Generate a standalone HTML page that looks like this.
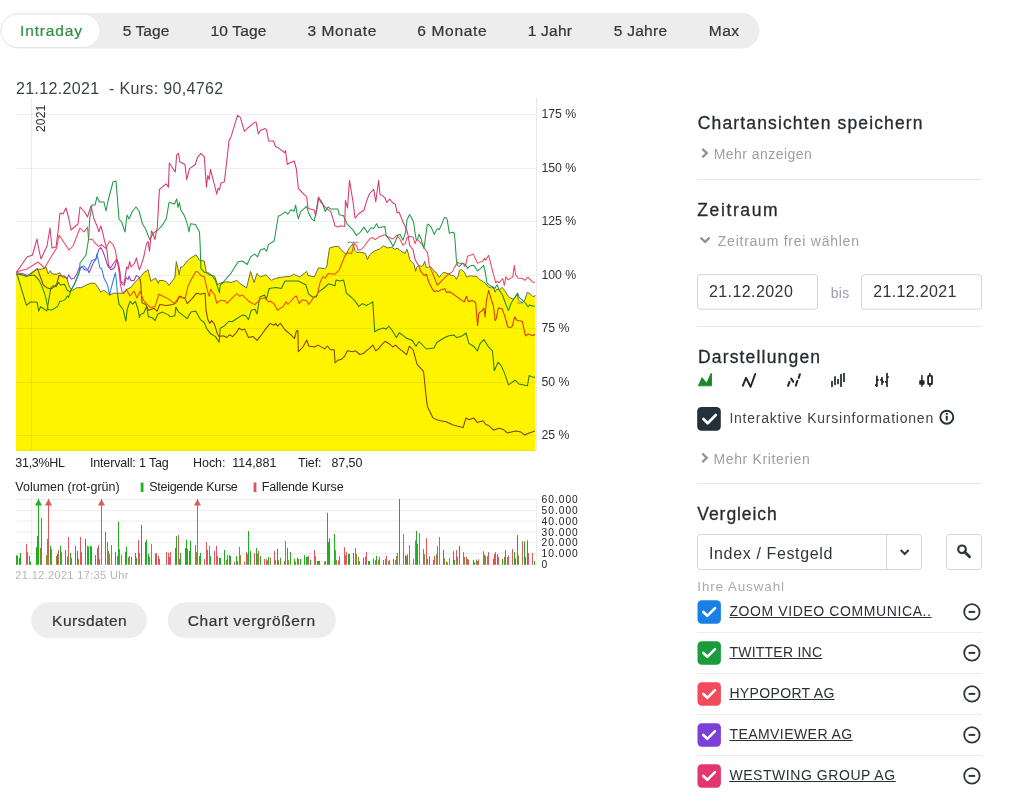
<!DOCTYPE html>
<html><head><meta charset="utf-8">
<style>
html,body{margin:0;padding:0;background:#fff;}
body{width:1027px;height:795px;overflow:hidden;position:relative;font-family:"Liberation Sans",sans-serif;}
.t{position:absolute;white-space:nowrap;line-height:1;}
svg{position:absolute;left:0;top:0;}
</style></head><body>
<svg width="1027" height="795" viewBox="0 0 1027 795" font-family="Liberation Sans">
<line x1="16" y1="114.5" x2="536" y2="114.5" stroke="#000" stroke-opacity="0.068" stroke-width="1"/>
<line x1="16" y1="168.5" x2="536" y2="168.5" stroke="#000" stroke-opacity="0.068" stroke-width="1"/>
<line x1="16" y1="221.5" x2="536" y2="221.5" stroke="#000" stroke-opacity="0.068" stroke-width="1"/>
<line x1="16" y1="275.5" x2="536" y2="275.5" stroke="#000" stroke-opacity="0.068" stroke-width="1"/>
<line x1="16" y1="328.5" x2="536" y2="328.5" stroke="#000" stroke-opacity="0.068" stroke-width="1"/>
<line x1="16" y1="382.5" x2="536" y2="382.5" stroke="#000" stroke-opacity="0.068" stroke-width="1"/>
<line x1="16" y1="435.5" x2="536" y2="435.5" stroke="#000" stroke-opacity="0.068" stroke-width="1"/>
<line x1="31.5" y1="98" x2="31.5" y2="451" stroke="#000" stroke-opacity="0.08" stroke-width="1"/>
<line x1="536.5" y1="98" x2="536.5" y2="451" stroke="#000" stroke-opacity="0.09" stroke-width="1"/>
<text x="0" y="0" transform="translate(44.9,132) rotate(-90)" font-size="12.5" fill="#333" font-family="Liberation Sans" textLength="27.3" lengthAdjust="spacingAndGlyphs">2021</text>
<polyline points="16.8,272.7 23.6,274.0 27.7,275.4 30.4,274.0 37.3,268.6 43.4,285.0 46.8,287.7 50.9,289.1 55.0,286.4 57.0,283.0 59.1,275.4 64.5,276.1 67.3,278.9 68.6,274.8 71.3,278.9 74.1,278.2 76.8,274.0 79.5,267.3 82.2,267.3 85.0,270.0 87.7,270.0 89.1,272.7 93.2,263.2 95.9,259.1 98.9,249.3 100.8,247.4 102.8,251.3 104.7,256.2 107.7,265.9 111.1,269.8 114.5,267.8 116.9,259.6 118.4,264.0 119.8,270.8 120.8,281.5 122.3,284.4 124.2,285.4 126.2,277.6 128.1,279.5 129.1,276.1 131.0,280.5 134.0,280.5 136.4,275.6 138.3,276.6 139.8,278.1 140.8,283.4 141.7,299.0 141.9,302.6 145.7,304.5 148.5,310.2 154.2,308.3 157.0,311.1 159.8,304.5 166.4,305.5 173.0,304.5 176.8,301.7 179.6,296.0 185.3,298.9 187.2,303.6 191.9,298.9 196.6,293.2 200.4,294.2 205.1,293.2 206.0,310.2 207.9,319.6 209.8,323.4 211.7,320.6 214.5,324.3 217.4,333.8 219.2,336.6 223.0,335.7 226.8,337.5 229.6,334.7 232.5,336.6 236.2,332.8 239.1,328.1 241.9,330.0 244.7,329.1 248.5,337.5 253.2,336.6 257.0,340.4 260.8,335.7 265.5,329.1 270.2,323.4 273.8,325.3 275.7,323.4 277.5,326.2 280.4,323.4 285.1,330.0 290.8,334.7 294.5,338.5 296.4,331.0 297.9,330.6 298.3,351.7 303.0,347.0 306.8,340.0 308.7,346.0 314.3,347.0 318.1,345.1 324.7,348.9 327.5,346.0 330.4,349.8 334.2,349.8 335.1,363.0 337.9,360.2 341.7,359.2 344.5,356.4 347.4,350.8 353.0,351.7 355.8,350.8 359.6,354.5 363.4,353.6 366.2,350.8 370.0,347.9 372.8,345.1 375.7,350.8 378.5,348.9 381.3,345.1 385.1,341.3 389.8,344.2 392.6,347.0 395.5,345.1 398.3,347.9 402.1,350.8 406.6,354.7 409.4,346.2 413.2,350.0 417.0,364.2 423.6,371.7 425.5,390.6 427.4,406.6 433.0,417.9 436.8,419.8 440.6,420.8 446.2,421.7 451.9,424.5 454.7,425.5 463.2,427.4 466.0,417.9 468.9,419.8 473.6,417.9 477.4,422.6 483.0,420.8 485.8,424.5 488.7,425.5 493.4,430.2 499.0,428.3 502.8,429.2 507.5,433.0 511.3,432.1 516.0,431.1 520.8,432.1 524.5,434.9 529.2,433.0 535.0,431.1" fill="none" stroke="#8a3fd0" stroke-width="1.05" stroke-opacity="1.0" stroke-linejoin="round"/>
<polyline points="16.8,273.4 26.4,305.4 30.4,302.0 35.2,302.0 37.3,302.7 38.6,310.9 40.7,306.8 46.8,310.9 48.8,300.0 50.9,287.7 53.6,285.7 56.3,286.4 58.4,282.3 60.4,285.0 64.5,284.3 67.3,290.4 70.0,291.8 75.4,282.3 78.2,275.4 80.9,267.3 83.6,265.9 87.7,270.0 91.8,260.5 95.9,259.1 96.9,254.2 98.9,263.0 99.9,267.8 101.8,268.8 103.8,277.6 105.7,281.5 107.7,285.4 109.6,295.1 111.1,288.3 113.5,279.5 115.4,272.7 116.4,281.5 117.4,293.2 119.0,304.1 123.1,309.5 125.9,321.1 127.2,309.5 130.0,301.3 132.7,304.1 135.4,301.3 138.1,309.5 139.5,317.7 140.0,314.9 143.8,313.0 146.6,306.4 148.5,316.8 152.3,317.7 155.1,320.6 157.9,314.0 162.6,312.1 168.3,314.9 170.2,316.8 174.9,315.8 175.8,307.4 178.7,312.1 187.2,318.7 190.9,312.1 195.7,311.1 200.4,319.6 204.2,322.5 207.0,329.1 210.8,333.8 215.5,336.6 219.2,342.3 220.2,328.1 224.0,326.2 228.7,321.5 232.5,321.5 238.1,317.7 242.8,314.9 245.7,315.8 248.5,319.6 251.3,310.2 255.1,309.2 257.0,314.0 259.8,297.0 264.5,295.1 266.4,298.9 269.2,288.5 275.8,287.5 281.3,288.5 285.1,281.0 298.3,281.0 305.8,284.7 308.7,294.2 312.5,297.0 316.2,297.0 318.1,292.3 324.7,287.5 328.5,283.8 335.1,285.7 336.0,280.0 339.8,281.0 343.6,280.0 344.5,283.8 346.4,293.2 351.1,297.0 354.9,300.8 358.7,306.4 362.5,303.6 366.2,305.5 370.0,303.6 372.8,301.7 374.7,331.9 377.5,330.0 383.2,328.1 386.0,329.1 388.9,326.2 392.6,330.9 396.4,337.5 399.2,332.8 402.1,334.7 405.7,337.7 412.3,340.6 416.0,346.2 418.9,341.5 426.4,349.0 434.0,348.1 436.8,342.5 444.3,337.7 449.0,335.8 453.8,334.9 456.6,337.7 462.3,335.8 466.0,333.0 468.9,343.4 473.6,346.2 477.4,351.0 480.2,343.4 484.0,339.6 488.7,347.2 492.5,351.0 494.3,370.8 498.1,362.3 500.9,365.1 504.7,373.6 508.5,384.9 515.1,380.2 518.9,384.0 527.4,385.8 529.2,375.5 533.0,377.4 535.0,377.0" fill="none" stroke="#2f7fe0" stroke-width="1.05" stroke-opacity="1.0" stroke-linejoin="round"/>
<polyline points="16.0,272.0 27.0,269.0 38.0,262.0 44.6,268.0 51.0,257.0 56.7,248.0 59.0,235.0 69.0,250.0 73.0,246.0 80.0,228.0 84.0,232.0 87.5,227.0 88.6,240.0 92.0,239.0 95.0,243.0 98.9,246.4 101.3,244.5 105.7,248.4 109.6,241.1 113.0,244.5 115.4,250.3 116.9,259.1 117.9,264.0 119.3,273.7 120.3,283.4 121.8,291.2 123.7,293.2 126.2,289.3 130.0,296.0 134.0,291.0 137.0,298.0 140.0,291.3 143.8,300.8 150.4,307.4 155.1,306.4 158.9,294.2 168.3,298.9 174.9,303.6 178.7,297.0 185.3,297.9 188.1,285.7 191.9,278.3 196.0,271.4 198.0,272.0 200.9,275.5 204.3,277.0 207.8,292.0 209.2,296.3 210.5,289.4 214.7,295.0 216.8,303.2 220.2,300.4 224.4,300.4 227.1,303.2 236.8,293.5 239.6,296.3 242.4,295.0 249.3,301.8 254.8,304.6 257.6,301.8 260.3,299.0 264.5,297.7 268.6,301.8 270.0,301.0 273.8,303.6 277.5,310.2 283.2,306.4 286.0,301.7 287.9,304.5 294.5,297.0 296.4,296.0 299.2,303.6 302.1,299.8 306.8,300.8 308.7,304.5 313.4,297.9 317.2,295.1 320.0,282.8 322.6,276.9 325.3,278.3 328.0,273.5 335.0,274.2 339.2,270.0 344.7,256.2 347.5,252.7 351.6,253.4 354.4,243.7 356.4,245.1 357.8,250.0 361.3,249.3 364.0,246.5 369.6,238.9 372.4,237.5 375.1,239.6 379.3,236.8 384.8,234.7 389.0,237.5 393.1,238.9 397.0,235.2 400.0,239.2 403.0,245.2 405.6,243.2 406.6,238.2 410.0,236.2 413.0,237.2 415.0,243.7 416.6,239.7 418.6,240.2 420.0,242.2 422.7,245.2 425.7,250.3 427.2,251.8 428.2,257.3 429.2,265.4 431.8,271.4 434.6,278.3 437.3,285.2 440.1,282.5 442.9,279.7 445.6,276.9 448.4,274.2 452.3,271.9 454.4,267.4 456.4,264.4 457.4,262.3 459.4,263.3 463.4,263.3 464.4,266.4 465.9,264.4 467.4,256.3 470.5,255.3 473.1,253.9 477.6,263.4 480.0,262.1 482.6,261.5 484.5,258.3 485.7,260.2 488.6,255.2 491.4,266.5 495.8,282.9 497.1,281.0 499.0,282.9 502.7,278.5 504.3,285.4 505.9,276.6 507.8,279.7 511.6,277.9 512.8,276.6 514.3,265.3 515.6,274.7 517.9,277.9 522.3,278.5 524.8,280.4 527.9,277.2 529.8,279.1 533.0,282.3 535.0,282.3" fill="none" stroke="#ee4a5e" stroke-width="1.05" stroke-opacity="1.0" stroke-linejoin="round"/>
<polyline points="16.5,274.0 20.0,274.5 27.0,276.0 34.0,275.0 38.6,279.5 41.4,285.0 45.4,295.9 48.2,309.5 50.9,310.2 55.0,308.2 57.7,306.1 59.8,301.3 63.2,300.7 65.9,298.6 67.3,295.9 68.6,297.3 71.3,289.8 74.1,285.0 79.5,271.4 80.0,263.0 86.0,255.0 88.6,239.0 89.7,219.0 92.0,205.0 95.0,205.0 97.0,197.0 99.6,202.0 104.0,202.0 106.0,211.0 108.0,201.0 113.0,182.0 116.0,181.0 119.0,219.0 121.6,222.0 125.0,232.0 127.0,215.0 129.0,219.0 132.6,211.0 136.0,207.0 139.0,211.0 142.5,224.0 145.5,228.5 149.7,239.6 153.8,232.7 158.0,230.0 162.0,225.7 166.3,218.8 169.0,202.5 172.5,203.2 174.6,204.0 176.7,199.0 178.0,207.3 179.4,202.5 180.8,210.0 183.6,214.3 185.6,218.8 187.7,225.7 189.0,232.0 190.5,223.7 195.3,224.4 199.5,232.0 200.2,246.5 200.9,268.6 205.0,272.8 207.8,272.8 212.0,275.5 215.4,280.4 217.5,286.6 219.5,292.8 220.2,285.2 223.0,282.5 227.1,277.6 231.3,272.8 235.4,265.9 238.2,261.7 242.4,261.0 245.1,263.0 247.2,264.5 250.6,256.9 254.8,254.1 257.6,256.9 260.3,250.0 264.5,248.6 266.6,251.3 268.6,244.4 274.2,241.0 278.3,216.0 280.4,215.4 285.2,211.9 288.0,214.0 290.7,209.8 294.2,211.2 295.6,205.0 297.0,213.3 298.4,218.8 300.4,211.9 306.7,206.4 308.7,213.3 311.5,218.8 314.3,220.9 316.3,210.5 318.4,197.7 321.9,201.8 325.3,211.5 328.0,207.0 330.9,209.1 337.8,209.0 339.2,214.7 343.3,215.4 345.4,220.2 347.5,224.4 353.0,229.9 356.4,235.4 359.9,232.7 364.0,227.1 367.5,232.7 371.0,227.8 373.7,228.5 376.5,223.7 378.6,227.8 384.8,226.4 386.2,235.4 390.3,241.0 393.1,246.5 395.9,240.3 398.0,235.2 400.0,234.2 403.0,240.2 405.6,232.2 407.0,220.0 409.6,214.6 411.6,218.0 413.6,222.0 414.6,230.2 416.1,239.2 417.6,239.2 419.1,234.2 421.2,239.2 423.7,248.3 424.7,243.2 427.2,225.1 428.2,224.1 431.2,227.1 434.2,234.2 436.8,229.6 438.3,228.6 439.3,229.6 441.8,224.1 444.3,217.6 446.3,218.1 447.3,220.1 449.3,233.2 452.8,232.2 454.4,233.2 455.4,245.2 456.4,260.3 457.4,265.4 459.4,266.4 462.4,263.3 465.4,264.4 467.4,268.4 469.4,266.4 471.5,265.4 473.8,265.3 477.6,270.9 480.7,268.4 483.6,265.3 485.1,271.6 487.0,282.9 489.5,285.4 492.7,286.7 494.6,288.6 497.1,284.8 499.0,289.8 502.7,295.5 505.3,303.0 508.4,310.6 510.9,303.7 512.8,300.5 516.0,295.5 517.6,293.0 519.1,297.4 522.9,300.5 525.4,303.0 527.9,306.8 529.8,304.9 533.0,306.2 535.0,306.0" fill="none" stroke="#1f9a45" stroke-width="1.05" stroke-opacity="1.0" stroke-linejoin="round"/>
<polyline points="16.0,273.0 27.0,257.0 32.5,255.0 37.0,239.0 39.0,250.0 41.0,259.0 47.0,246.0 50.0,228.0 52.0,248.0 56.0,247.0 58.0,232.0 60.0,213.0 63.0,214.0 66.0,208.0 69.0,219.0 71.0,230.0 78.0,224.0 80.0,207.0 84.0,211.0 87.5,217.0 91.0,206.0 94.0,219.0 97.0,226.0 98.9,231.8 100.8,226.0 102.8,232.8 104.7,241.6 106.7,248.4 107.7,257.1 108.6,265.9 110.6,267.8 114.5,262.0 116.9,259.1 118.4,264.0 119.8,273.7 120.8,281.5 122.3,282.4 124.2,283.4 125.2,276.6 126.6,266.9 128.1,268.8 129.6,261.5 131.0,266.9 134.4,263.5 136.4,258.1 139.3,269.8 141.3,264.9 143.7,257.1 146.6,243.5 148.1,241.6 149.5,251.3 151.5,230.8 153.4,234.7 154.9,239.6 157.3,227.0 158.0,215.0 159.4,189.4 166.3,183.8 168.4,187.3 169.3,163.0 175.3,172.0 176.7,154.8 178.5,153.4 179.8,161.7 185.0,164.5 186.7,179.7 189.5,168.6 195.3,164.5 197.4,157.6 200.9,153.4 204.3,156.9 206.4,187.3 207.8,175.5 209.2,179.7 210.5,169.3 216.8,194.2 218.1,188.0 219.5,190.0 220.9,183.1 224.4,181.8 229.2,139.6 230.6,138.2 237.5,115.4 240.3,117.4 244.4,131.3 247.2,128.5 254.8,122.3 256.2,122.3 258.3,134.0 260.3,130.6 265.2,128.5 266.6,129.9 268.6,141.0 273.5,141.0 275.5,146.5 278.3,147.9 284.5,152.7 285.5,150.6 287.3,164.5 289.4,163.0 294.2,161.0 296.3,168.6 298.4,188.7 304.6,194.9 306.7,197.0 308.0,208.0 309.4,208.7 314.3,210.0 315.6,216.0 317.7,205.0 318.4,197.0 320.5,201.8 325.3,207.3 330.9,211.9 335.0,225.7 337.8,227.1 340.5,225.7 344.7,226.4 345.4,200.4 347.5,208.0 349.5,180.4 353.0,201.8 354.4,212.9 355.1,218.1 358.5,214.0 364.0,210.0 366.8,200.4 369.6,193.5 373.7,189.4 375.8,201.8 378.6,180.4 380.0,194.2 384.8,197.7 386.9,202.5 389.6,199.0 393.1,203.2 395.2,203.9 397.2,212.9 399.0,212.0 401.0,217.0 403.0,222.0 405.0,226.0 407.0,231.0 408.0,235.0 409.6,245.0 411.0,247.3 413.0,249.3 415.0,259.3 416.6,262.3 418.6,265.4 420.7,271.4 424.2,275.5 426.3,274.2 429.0,282.5 431.8,288.0 433.9,291.4 436.7,290.8 438.7,291.4 441.5,289.4 445.0,288.7 446.3,292.1 450.5,292.1 455.3,295.6 458.1,297.7 461.5,300.4 464.3,301.8 466.4,296.3 468.5,301.8 471.9,300.4 473.8,301.2 475.7,303.0 477.6,325.7 478.8,313.1 482.0,310.6 483.9,308.1 485.1,316.9 486.4,300.5 488.6,290.5 490.8,298.0 493.3,305.6 495.2,320.7 496.4,318.2 498.3,308.1 502.1,308.7 504.6,315.6 507.8,327.0 510.3,327.6 512.2,326.3 514.7,316.9 516.6,320.0 519.1,320.7 522.3,321.3 524.2,330.0 525.5,335.8 528.3,334.0 533.0,335.8 535.0,334.0" fill="none" stroke="#d8386e" stroke-width="1.05" stroke-opacity="1.0" stroke-linejoin="round"/>
<polyline points="16.1,274.0 20.9,274.0 26.4,276.8 37.3,268.6 39.3,269.3 44.1,268.6 46.1,267.3 48.2,274.0 50.2,270.7 52.3,274.0 57.7,274.0 59.8,272.7 61.8,276.8 66.6,277.5 68.6,284.3 70.0,287.7 72.7,290.4 76.8,287.7 80.9,287.7 86.3,285.0 91.8,283.0 95.2,283.6 97.9,287.3 100.8,292.2 103.8,290.2 106.7,292.2 109.6,295.1 113.5,293.2 118.4,293.2 124.2,293.2 127.1,289.3 131.0,287.3 134.9,282.4 137.8,279.5 140.8,276.6 143.7,272.7 148.1,269.8 149.0,273.7 151.0,281.5 153.4,279.0 155.9,278.6 158.3,283.4 159.3,280.5 163.2,280.5 166.1,281.5 169.0,285.4 171.9,281.5 174.8,277.6 176.3,261.5 177.8,267.8 179.2,274.7 180.7,266.9 182.6,266.9 186.5,262.0 189.9,258.6 196.0,254.8 199.5,260.3 204.3,261.0 206.4,272.8 209.2,274.8 214.7,276.2 217.5,284.5 221.6,282.5 227.1,281.8 231.3,282.5 236.8,280.4 239.6,283.1 246.5,288.0 250.6,271.4 254.1,282.5 256.9,273.5 260.3,276.9 265.9,274.8 271.4,280.4 275.5,278.3 283.8,276.9 290.7,276.2 293.5,274.2 299.7,276.9 306.7,271.4 308.0,275.5 314.3,276.9 318.4,267.9 324.6,268.6 326.7,267.2 329.5,247.9 335.0,246.5 338.5,246.5 341.9,250.6 346.1,254.1 349.5,247.9 353.0,243.7 355.1,250.6 357.1,252.7 359.9,252.0 365.4,253.4 367.5,259.6 369.6,254.8 373.0,252.0 375.1,250.6 379.3,249.3 383.4,245.8 387.6,247.9 391.7,247.2 394.5,249.3 397.0,248.3 399.0,249.3 401.0,251.3 403.0,252.3 405.0,253.3 407.0,249.3 408.6,254.3 409.6,259.3 411.6,261.8 414.1,264.4 415.6,271.4 416.6,267.4 418.6,265.4 421.2,266.4 423.2,265.4 424.7,261.3 426.2,267.4 427.7,267.4 429.7,266.4 432.2,268.4 434.2,271.4 436.2,272.4 439.3,277.4 441.3,274.4 443.3,272.4 447.3,273.4 451.3,275.4 453.4,275.4 455.4,277.4 456.4,279.4 458.4,275.4 459.4,270.4 461.4,269.4 464.4,272.4 465.9,275.4 466.9,277.4 468.4,275.9 471.5,275.9 476.9,276.6 480.0,279.7 485.1,282.9 488.9,287.3 491.4,287.9 493.3,287.3 495.2,292.3 496.4,289.2 499.6,289.8 502.1,287.3 504.6,290.5 507.8,295.5 510.3,298.0 513.5,299.3 517.2,294.2 518.5,299.9 520.4,301.8 522.9,302.4 524.8,299.9 527.3,292.3 530.5,294.2 533.0,296.7 535.5,295.5" fill="none" stroke="#707070" stroke-width="1.0" stroke-opacity="1.0" stroke-linejoin="round"/>
<polygon points="16.1,274.0 20.9,274.0 26.4,276.8 37.3,268.6 39.3,269.3 44.1,268.6 46.1,267.3 48.2,274.0 50.2,270.7 52.3,274.0 57.7,274.0 59.8,272.7 61.8,276.8 66.6,277.5 68.6,284.3 70.0,287.7 72.7,290.4 76.8,287.7 80.9,287.7 86.3,285.0 91.8,283.0 95.2,283.6 97.9,287.3 100.8,292.2 103.8,290.2 106.7,292.2 109.6,295.1 113.5,293.2 118.4,293.2 124.2,293.2 127.1,289.3 131.0,287.3 134.9,282.4 137.8,279.5 140.8,276.6 143.7,272.7 148.1,269.8 149.0,273.7 151.0,281.5 153.4,279.0 155.9,278.6 158.3,283.4 159.3,280.5 163.2,280.5 166.1,281.5 169.0,285.4 171.9,281.5 174.8,277.6 176.3,261.5 177.8,267.8 179.2,274.7 180.7,266.9 182.6,266.9 186.5,262.0 189.9,258.6 196.0,254.8 199.5,260.3 204.3,261.0 206.4,272.8 209.2,274.8 214.7,276.2 217.5,284.5 221.6,282.5 227.1,281.8 231.3,282.5 236.8,280.4 239.6,283.1 246.5,288.0 250.6,271.4 254.1,282.5 256.9,273.5 260.3,276.9 265.9,274.8 271.4,280.4 275.5,278.3 283.8,276.9 290.7,276.2 293.5,274.2 299.7,276.9 306.7,271.4 308.0,275.5 314.3,276.9 318.4,267.9 324.6,268.6 326.7,267.2 329.5,247.9 335.0,246.5 338.5,246.5 341.9,250.6 346.1,254.1 349.5,247.9 353.0,243.7 355.1,250.6 357.1,252.7 359.9,252.0 365.4,253.4 367.5,259.6 369.6,254.8 373.0,252.0 375.1,250.6 379.3,249.3 383.4,245.8 387.6,247.9 391.7,247.2 394.5,249.3 397.0,248.3 399.0,249.3 401.0,251.3 403.0,252.3 405.0,253.3 407.0,249.3 408.6,254.3 409.6,259.3 411.6,261.8 414.1,264.4 415.6,271.4 416.6,267.4 418.6,265.4 421.2,266.4 423.2,265.4 424.7,261.3 426.2,267.4 427.7,267.4 429.7,266.4 432.2,268.4 434.2,271.4 436.2,272.4 439.3,277.4 441.3,274.4 443.3,272.4 447.3,273.4 451.3,275.4 453.4,275.4 455.4,277.4 456.4,279.4 458.4,275.4 459.4,270.4 461.4,269.4 464.4,272.4 465.9,275.4 466.9,277.4 468.4,275.9 471.5,275.9 476.9,276.6 480.0,279.7 485.1,282.9 488.9,287.3 491.4,287.9 493.3,287.3 495.2,292.3 496.4,289.2 499.6,289.8 502.1,287.3 504.6,290.5 507.8,295.5 510.3,298.0 513.5,299.3 517.2,294.2 518.5,299.9 520.4,301.8 522.9,302.4 524.8,299.9 527.3,292.3 530.5,294.2 533.0,296.7 535.5,295.5 535.5,451.0 16.0,451.0" fill="#fff400" style="mix-blend-mode:multiply"/>
<path d="M347.5 242.3H358.5M353 242.3V247" stroke="#888" stroke-width="1" fill="none"/>
<path d="M517 303H523" stroke="#888" stroke-width="1" fill="none"/>
<line x1="16" y1="499.5" x2="536" y2="499.5" stroke="#000" stroke-opacity="0.07" stroke-width="1"/>
<line x1="16" y1="510.3" x2="536" y2="510.3" stroke="#000" stroke-opacity="0.07" stroke-width="1"/>
<line x1="16" y1="521.1" x2="536" y2="521.1" stroke="#000" stroke-opacity="0.07" stroke-width="1"/>
<line x1="16" y1="531.9" x2="536" y2="531.9" stroke="#000" stroke-opacity="0.07" stroke-width="1"/>
<line x1="16" y1="542.7" x2="536" y2="542.7" stroke="#000" stroke-opacity="0.07" stroke-width="1"/>
<line x1="16" y1="553.5" x2="536" y2="553.5" stroke="#000" stroke-opacity="0.07" stroke-width="1"/>
<line x1="16" y1="564.3" x2="536" y2="564.3" stroke="#000" stroke-opacity="0.07" stroke-width="1"/>
<line x1="536.5" y1="499" x2="536.5" y2="565" stroke="#000" stroke-opacity="0.07" stroke-width="1"/>
<line x1="16" y1="450.5" x2="536" y2="450.5" stroke="#000" stroke-opacity="0.05" stroke-width="1"/>
<line x1="31.5" y1="495" x2="31.5" y2="565" stroke="#000" stroke-opacity="0.06" stroke-width="1"/>
<rect x="16" y="555.1" width="1" height="9.7" fill="#1fae1f"/>
<rect x="17" y="555.9" width="1" height="8.9" fill="#1fae1f"/>
<rect x="19" y="557.8" width="1" height="7.0" fill="#1fae1f"/>
<rect x="20" y="553.0" width="1" height="11.8" fill="#1fae1f"/>
<rect x="26" y="543.9" width="1" height="20.9" fill="#e0565f"/>
<rect x="27" y="552.1" width="1" height="12.7" fill="#8c8a2c"/>
<rect x="29" y="555.9" width="1" height="8.9" fill="#1fae1f"/>
<rect x="30" y="561.6" width="1" height="3.2" fill="#1fae1f"/>
<rect x="36" y="547.1" width="1" height="17.7" fill="#1fae1f"/>
<rect x="37" y="535.8" width="1" height="29.0" fill="#1fae1f"/>
<rect x="38" y="498.8" width="1" height="66.0" fill="#1fae1f"/>
<rect x="40" y="547.8" width="1" height="17.0" fill="#8c8a2c"/>
<rect x="41" y="517.8" width="1" height="47.0" fill="#1fae1f"/>
<rect x="46" y="555.1" width="1" height="9.7" fill="#8c8a2c"/>
<rect x="47" y="538.8" width="1" height="26.0" fill="#e0565f"/>
<rect x="48" y="498.8" width="1" height="66.0" fill="#e0565f"/>
<rect x="50" y="545.8" width="1" height="19.0" fill="#1fae1f"/>
<rect x="51" y="549.0" width="1" height="15.8" fill="#8c8a2c"/>
<rect x="56" y="555.9" width="1" height="8.9" fill="#8c8a2c"/>
<rect x="57" y="554.0" width="1" height="10.8" fill="#1fae1f"/>
<rect x="58" y="550.0" width="1" height="14.8" fill="#e0565f"/>
<rect x="60" y="545.8" width="1" height="19.0" fill="#1fae1f"/>
<rect x="61" y="552.1" width="1" height="12.7" fill="#8c8a2c"/>
<rect x="65" y="550.0" width="1" height="14.8" fill="#1fae1f"/>
<rect x="67" y="556.6" width="1" height="8.2" fill="#e0565f"/>
<rect x="68" y="537.0" width="1" height="27.8" fill="#e0565f"/>
<rect x="70" y="553.0" width="1" height="11.8" fill="#1fae1f"/>
<rect x="71" y="557.8" width="1" height="7.0" fill="#8c8a2c"/>
<rect x="75" y="545.8" width="1" height="19.0" fill="#1fae1f"/>
<rect x="77" y="550.9" width="1" height="13.9" fill="#1fae1f"/>
<rect x="78" y="559.1" width="1" height="5.7" fill="#8c8a2c"/>
<rect x="80" y="537.0" width="1" height="27.8" fill="#e0565f"/>
<rect x="81" y="552.1" width="1" height="12.7" fill="#e0565f"/>
<rect x="85" y="538.8" width="1" height="26.0" fill="#1fae1f"/>
<rect x="87" y="545.8" width="1" height="19.0" fill="#1fae1f"/>
<rect x="88" y="546.4" width="1" height="18.4" fill="#1fae1f"/>
<rect x="90" y="545.8" width="1" height="19.0" fill="#1fae1f"/>
<rect x="91" y="546.4" width="1" height="18.4" fill="#1fae1f"/>
<rect x="95" y="555.1" width="1" height="9.7" fill="#1fae1f"/>
<rect x="97" y="548.0" width="1" height="16.8" fill="#e0565f"/>
<rect x="98" y="545.2" width="1" height="19.6" fill="#e0565f"/>
<rect x="99" y="559.1" width="1" height="5.7" fill="#e0565f"/>
<rect x="101" y="498.8" width="1" height="66.0" fill="#e0565f"/>
<rect x="105" y="531.9" width="1" height="32.9" fill="#1fae1f"/>
<rect x="107" y="542.0" width="1" height="22.8" fill="#e0565f"/>
<rect x="108" y="550.9" width="1" height="13.9" fill="#8c8a2c"/>
<rect x="109" y="553.8" width="1" height="11.0" fill="#8c8a2c"/>
<rect x="111" y="544.9" width="1" height="19.9" fill="#e0565f"/>
<rect x="115" y="551.8" width="1" height="13.0" fill="#1fae1f"/>
<rect x="117" y="555.9" width="1" height="8.9" fill="#e0565f"/>
<rect x="118" y="521.8" width="1" height="43.0" fill="#1fae1f"/>
<rect x="119" y="549.0" width="1" height="15.8" fill="#8c8a2c"/>
<rect x="121" y="555.1" width="1" height="9.7" fill="#e0565f"/>
<rect x="125" y="551.8" width="1" height="13.0" fill="#1fae1f"/>
<rect x="126" y="546.8" width="1" height="18.0" fill="#1fae1f"/>
<rect x="128" y="557.2" width="1" height="7.6" fill="#8c8a2c"/>
<rect x="129" y="555.9" width="1" height="8.9" fill="#8c8a2c"/>
<rect x="131" y="556.8" width="1" height="8.0" fill="#1fae1f"/>
<rect x="135" y="553.0" width="1" height="11.8" fill="#1fae1f"/>
<rect x="136" y="557.8" width="1" height="7.0" fill="#1fae1f"/>
<rect x="138" y="539.8" width="1" height="25.0" fill="#e0565f"/>
<rect x="139" y="553.0" width="1" height="11.8" fill="#8c8a2c"/>
<rect x="141" y="524.8" width="1" height="40.0" fill="#1fae1f"/>
<rect x="145" y="542.0" width="1" height="22.8" fill="#1fae1f"/>
<rect x="146" y="539.8" width="1" height="25.0" fill="#1fae1f"/>
<rect x="148" y="553.8" width="1" height="11.0" fill="#1fae1f"/>
<rect x="149" y="556.6" width="1" height="8.2" fill="#8c8a2c"/>
<rect x="151" y="543.9" width="1" height="20.9" fill="#e0565f"/>
<rect x="155" y="553.8" width="1" height="11.0" fill="#1fae1f"/>
<rect x="156" y="553.0" width="1" height="11.8" fill="#e0565f"/>
<rect x="158" y="555.9" width="1" height="8.9" fill="#e0565f"/>
<rect x="159" y="558.8" width="1" height="6.0" fill="#8c8a2c"/>
<rect x="166" y="552.1" width="1" height="12.7" fill="#e0565f"/>
<rect x="168" y="552.8" width="1" height="12.0" fill="#e0565f"/>
<rect x="169" y="556.6" width="1" height="8.2" fill="#8c8a2c"/>
<rect x="170" y="552.1" width="1" height="12.7" fill="#e0565f"/>
<rect x="175" y="548.0" width="1" height="16.8" fill="#1fae1f"/>
<rect x="176" y="536.1" width="1" height="28.7" fill="#1fae1f"/>
<rect x="178" y="535.1" width="1" height="29.7" fill="#e0565f"/>
<rect x="179" y="559.1" width="1" height="5.7" fill="#e0565f"/>
<rect x="180" y="553.0" width="1" height="11.8" fill="#1fae1f"/>
<rect x="185" y="548.0" width="1" height="16.8" fill="#1fae1f"/>
<rect x="186" y="539.8" width="1" height="25.0" fill="#1fae1f"/>
<rect x="187" y="549.0" width="1" height="15.8" fill="#1fae1f"/>
<rect x="189" y="550.9" width="1" height="13.9" fill="#1fae1f"/>
<rect x="190" y="540.8" width="1" height="24.0" fill="#1fae1f"/>
<rect x="195" y="544.9" width="1" height="19.9" fill="#e0565f"/>
<rect x="196" y="552.1" width="1" height="12.7" fill="#8c8a2c"/>
<rect x="197" y="498.8" width="1" height="66.0" fill="#e0565f"/>
<rect x="199" y="555.9" width="1" height="8.9" fill="#8c8a2c"/>
<rect x="200" y="553.0" width="1" height="11.8" fill="#1fae1f"/>
<rect x="204" y="559.1" width="1" height="5.7" fill="#e0565f"/>
<rect x="206" y="542.0" width="1" height="22.8" fill="#e0565f"/>
<rect x="207" y="550.0" width="1" height="14.8" fill="#8c8a2c"/>
<rect x="209" y="545.8" width="1" height="19.0" fill="#e0565f"/>
<rect x="210" y="555.9" width="1" height="8.9" fill="#1fae1f"/>
<rect x="214" y="550.9" width="1" height="13.9" fill="#e0565f"/>
<rect x="216" y="545.8" width="1" height="19.0" fill="#e0565f"/>
<rect x="217" y="555.9" width="1" height="8.9" fill="#8c8a2c"/>
<rect x="219" y="557.8" width="1" height="7.0" fill="#1fae1f"/>
<rect x="220" y="557.8" width="1" height="7.0" fill="#1fae1f"/>
<rect x="224" y="550.0" width="1" height="14.8" fill="#1fae1f"/>
<rect x="226" y="559.8" width="1" height="5.0" fill="#8c8a2c"/>
<rect x="227" y="554.8" width="1" height="10.0" fill="#e0565f"/>
<rect x="229" y="555.1" width="1" height="9.7" fill="#1fae1f"/>
<rect x="230" y="555.9" width="1" height="8.9" fill="#1fae1f"/>
<rect x="234" y="561.6" width="1" height="3.2" fill="#e0565f"/>
<rect x="236" y="555.9" width="1" height="8.9" fill="#1fae1f"/>
<rect x="237" y="561.0" width="1" height="3.8" fill="#1fae1f"/>
<rect x="239" y="546.8" width="1" height="18.0" fill="#e0565f"/>
<rect x="240" y="555.1" width="1" height="9.7" fill="#8c8a2c"/>
<rect x="244" y="561.6" width="1" height="3.2" fill="#e0565f"/>
<rect x="246" y="551.8" width="1" height="13.0" fill="#e0565f"/>
<rect x="247" y="553.8" width="1" height="11.0" fill="#8c8a2c"/>
<rect x="248" y="531.0" width="1" height="33.8" fill="#1fae1f"/>
<rect x="250" y="550.9" width="1" height="13.9" fill="#1fae1f"/>
<rect x="254" y="553.0" width="1" height="11.8" fill="#e0565f"/>
<rect x="256" y="548.0" width="1" height="16.8" fill="#1fae1f"/>
<rect x="257" y="553.8" width="1" height="11.0" fill="#8c8a2c"/>
<rect x="258" y="550.9" width="1" height="13.9" fill="#e0565f"/>
<rect x="260" y="555.9" width="1" height="8.9" fill="#1fae1f"/>
<rect x="264" y="558.8" width="1" height="6.0" fill="#e0565f"/>
<rect x="266" y="559.1" width="1" height="5.7" fill="#e0565f"/>
<rect x="267" y="560.4" width="1" height="4.4" fill="#8c8a2c"/>
<rect x="268" y="556.8" width="1" height="8.0" fill="#1fae1f"/>
<rect x="270" y="557.8" width="1" height="7.0" fill="#8c8a2c"/>
<rect x="274" y="550.9" width="1" height="13.9" fill="#e0565f"/>
<rect x="275" y="560.1" width="1" height="4.7" fill="#e0565f"/>
<rect x="277" y="549.0" width="1" height="15.8" fill="#1fae1f"/>
<rect x="278" y="560.1" width="1" height="4.7" fill="#8c8a2c"/>
<rect x="280" y="557.8" width="1" height="7.0" fill="#1fae1f"/>
<rect x="284" y="561.0" width="1" height="3.8" fill="#8c8a2c"/>
<rect x="285" y="540.8" width="1" height="24.0" fill="#e0565f"/>
<rect x="287" y="547.8" width="1" height="17.0" fill="#1fae1f"/>
<rect x="288" y="560.1" width="1" height="4.7" fill="#8c8a2c"/>
<rect x="290" y="551.8" width="1" height="13.0" fill="#1fae1f"/>
<rect x="294" y="558.8" width="1" height="6.0" fill="#1fae1f"/>
<rect x="295" y="561.6" width="1" height="3.2" fill="#8c8a2c"/>
<rect x="297" y="557.8" width="1" height="7.0" fill="#1fae1f"/>
<rect x="298" y="558.8" width="1" height="6.0" fill="#8c8a2c"/>
<rect x="300" y="558.8" width="1" height="6.0" fill="#1fae1f"/>
<rect x="304" y="555.1" width="1" height="9.7" fill="#1fae1f"/>
<rect x="306" y="556.8" width="1" height="8.0" fill="#1fae1f"/>
<rect x="307" y="556.8" width="1" height="8.0" fill="#8c8a2c"/>
<rect x="308" y="555.9" width="1" height="8.9" fill="#e0565f"/>
<rect x="310" y="559.8" width="1" height="5.0" fill="#1fae1f"/>
<rect x="314" y="550.0" width="1" height="14.8" fill="#e0565f"/>
<rect x="315" y="555.9" width="1" height="8.9" fill="#8c8a2c"/>
<rect x="317" y="561.0" width="1" height="3.8" fill="#1fae1f"/>
<rect x="318" y="561.0" width="1" height="3.8" fill="#1fae1f"/>
<rect x="319" y="561.0" width="1" height="3.8" fill="#1fae1f"/>
<rect x="324" y="561.6" width="1" height="3.2" fill="#8c8a2c"/>
<rect x="325" y="561.0" width="1" height="3.8" fill="#8c8a2c"/>
<rect x="327" y="512.8" width="1" height="52.0" fill="#1fae1f"/>
<rect x="328" y="542.0" width="1" height="22.8" fill="#1fae1f"/>
<rect x="329" y="538.2" width="1" height="26.6" fill="#1fae1f"/>
<rect x="334" y="534.0" width="1" height="30.8" fill="#1fae1f"/>
<rect x="335" y="550.0" width="1" height="14.8" fill="#8c8a2c"/>
<rect x="336" y="560.1" width="1" height="4.7" fill="#8c8a2c"/>
<rect x="338" y="560.1" width="1" height="4.7" fill="#e0565f"/>
<rect x="339" y="555.9" width="1" height="8.9" fill="#e0565f"/>
<rect x="344" y="547.1" width="1" height="17.7" fill="#e0565f"/>
<rect x="345" y="555.1" width="1" height="9.7" fill="#8c8a2c"/>
<rect x="346" y="552.1" width="1" height="12.7" fill="#e0565f"/>
<rect x="348" y="553.8" width="1" height="11.0" fill="#1fae1f"/>
<rect x="349" y="553.8" width="1" height="11.0" fill="#1fae1f"/>
<rect x="353" y="553.0" width="1" height="11.8" fill="#1fae1f"/>
<rect x="355" y="548.0" width="1" height="16.8" fill="#e0565f"/>
<rect x="356" y="554.0" width="1" height="10.8" fill="#8c8a2c"/>
<rect x="358" y="556.8" width="1" height="8.0" fill="#8c8a2c"/>
<rect x="359" y="561.0" width="1" height="3.8" fill="#e0565f"/>
<rect x="363" y="557.8" width="1" height="7.0" fill="#1fae1f"/>
<rect x="365" y="556.8" width="1" height="8.0" fill="#8c8a2c"/>
<rect x="366" y="552.1" width="1" height="12.7" fill="#e0565f"/>
<rect x="368" y="561.0" width="1" height="3.8" fill="#1fae1f"/>
<rect x="369" y="561.0" width="1" height="3.8" fill="#1fae1f"/>
<rect x="373" y="558.8" width="1" height="6.0" fill="#1fae1f"/>
<rect x="375" y="560.1" width="1" height="4.7" fill="#8c8a2c"/>
<rect x="376" y="555.9" width="1" height="8.9" fill="#1fae1f"/>
<rect x="378" y="560.1" width="1" height="4.7" fill="#8c8a2c"/>
<rect x="379" y="556.8" width="1" height="8.0" fill="#e0565f"/>
<rect x="383" y="560.1" width="1" height="4.7" fill="#1fae1f"/>
<rect x="385" y="558.8" width="1" height="6.0" fill="#e0565f"/>
<rect x="386" y="555.9" width="1" height="8.9" fill="#e0565f"/>
<rect x="388" y="561.0" width="1" height="3.8" fill="#8c8a2c"/>
<rect x="389" y="560.1" width="1" height="4.7" fill="#8c8a2c"/>
<rect x="393" y="558.8" width="1" height="6.0" fill="#1fae1f"/>
<rect x="395" y="560.1" width="1" height="4.7" fill="#8c8a2c"/>
<rect x="396" y="555.9" width="1" height="8.9" fill="#8c8a2c"/>
<rect x="397" y="553.0" width="1" height="11.8" fill="#e0565f"/>
<rect x="399" y="498.8" width="1" height="66.0" fill="#1fae1f"/>
<rect x="403" y="534.0" width="1" height="30.8" fill="#e0565f"/>
<rect x="405" y="555.3" width="1" height="9.5" fill="#1fae1f"/>
<rect x="406" y="556.2" width="1" height="8.6" fill="#8c8a2c"/>
<rect x="407" y="554.2" width="1" height="10.6" fill="#1fae1f"/>
<rect x="409" y="545.0" width="1" height="19.8" fill="#e0565f"/>
<rect x="413" y="558.9" width="1" height="5.9" fill="#e0565f"/>
<rect x="415" y="540.3" width="1" height="24.5" fill="#e0565f"/>
<rect x="416" y="531.0" width="1" height="33.8" fill="#1fae1f"/>
<rect x="417" y="543.9" width="1" height="20.9" fill="#1fae1f"/>
<rect x="419" y="533.0" width="1" height="31.8" fill="#e0565f"/>
<rect x="423" y="549.0" width="1" height="15.8" fill="#e0565f"/>
<rect x="424" y="554.2" width="1" height="10.6" fill="#8c8a2c"/>
<rect x="426" y="538.1" width="1" height="26.7" fill="#e0565f"/>
<rect x="427" y="558.9" width="1" height="5.9" fill="#8c8a2c"/>
<rect x="429" y="556.2" width="1" height="8.6" fill="#1fae1f"/>
<rect x="433" y="559.9" width="1" height="4.9" fill="#e0565f"/>
<rect x="434" y="555.8" width="1" height="9.0" fill="#e0565f"/>
<rect x="436" y="554.2" width="1" height="10.6" fill="#8c8a2c"/>
<rect x="437" y="546.0" width="1" height="18.8" fill="#e0565f"/>
<rect x="439" y="537.1" width="1" height="27.7" fill="#e0565f"/>
<rect x="443" y="550.1" width="1" height="14.7" fill="#1fae1f"/>
<rect x="444" y="558.3" width="1" height="6.5" fill="#8c8a2c"/>
<rect x="446" y="561.3" width="1" height="3.5" fill="#8c8a2c"/>
<rect x="447" y="562.3" width="1" height="2.5" fill="#8c8a2c"/>
<rect x="449" y="558.0" width="1" height="6.8" fill="#e0565f"/>
<rect x="453" y="551.2" width="1" height="13.6" fill="#1fae1f"/>
<rect x="454" y="559.9" width="1" height="4.9" fill="#1fae1f"/>
<rect x="456" y="550.1" width="1" height="14.7" fill="#e0565f"/>
<rect x="457" y="556.9" width="1" height="7.9" fill="#8c8a2c"/>
<rect x="459" y="546.0" width="1" height="18.8" fill="#1fae1f"/>
<rect x="463" y="552.1" width="1" height="12.7" fill="#e0565f"/>
<rect x="464" y="556.9" width="1" height="7.9" fill="#e0565f"/>
<rect x="466" y="556.9" width="1" height="7.9" fill="#8c8a2c"/>
<rect x="467" y="558.9" width="1" height="5.9" fill="#8c8a2c"/>
<rect x="468" y="559.6" width="1" height="5.2" fill="#e0565f"/>
<rect x="473" y="560.0" width="1" height="4.8" fill="#1fae1f"/>
<rect x="474" y="562.3" width="1" height="2.5" fill="#1fae1f"/>
<rect x="476" y="559.6" width="1" height="5.2" fill="#8c8a2c"/>
<rect x="477" y="561.0" width="1" height="3.8" fill="#8c8a2c"/>
<rect x="478" y="559.3" width="1" height="5.5" fill="#e0565f"/>
<rect x="483" y="551.2" width="1" height="13.6" fill="#e0565f"/>
<rect x="484" y="554.8" width="1" height="10.0" fill="#8c8a2c"/>
<rect x="485" y="555.8" width="1" height="9.0" fill="#8c8a2c"/>
<rect x="487" y="556.2" width="1" height="8.6" fill="#e0565f"/>
<rect x="488" y="552.1" width="1" height="12.7" fill="#e0565f"/>
<rect x="493" y="558.9" width="1" height="5.9" fill="#1fae1f"/>
<rect x="494" y="553.9" width="1" height="10.9" fill="#e0565f"/>
<rect x="495" y="552.1" width="1" height="12.7" fill="#e0565f"/>
<rect x="497" y="554.2" width="1" height="10.6" fill="#1fae1f"/>
<rect x="498" y="556.9" width="1" height="7.9" fill="#e0565f"/>
<rect x="502" y="558.9" width="1" height="5.9" fill="#1fae1f"/>
<rect x="504" y="556.9" width="1" height="7.9" fill="#8c8a2c"/>
<rect x="505" y="550.1" width="1" height="14.7" fill="#1fae1f"/>
<rect x="507" y="556.9" width="1" height="7.9" fill="#e0565f"/>
<rect x="508" y="555.3" width="1" height="9.5" fill="#e0565f"/>
<rect x="512" y="549.0" width="1" height="15.8" fill="#e0565f"/>
<rect x="514" y="552.1" width="1" height="12.7" fill="#1fae1f"/>
<rect x="515" y="558.3" width="1" height="6.5" fill="#1fae1f"/>
<rect x="517" y="535.1" width="1" height="29.7" fill="#1fae1f"/>
<rect x="518" y="555.3" width="1" height="9.5" fill="#8c8a2c"/>
<rect x="522" y="541.2" width="1" height="23.6" fill="#e0565f"/>
<rect x="524" y="541.2" width="1" height="23.6" fill="#1fae1f"/>
<rect x="525" y="556.9" width="1" height="7.9" fill="#1fae1f"/>
<rect x="527" y="540.3" width="1" height="24.5" fill="#1fae1f"/>
<rect x="528" y="553.1" width="1" height="11.7" fill="#e0565f"/>
<rect x="532" y="553.1" width="1" height="11.7" fill="#e0565f"/>
<rect x="534" y="561.0" width="1" height="3.8" fill="#1fae1f"/>
<path d="M35.0 505.5L38.5 499L42.0 505.5Z" fill="#1fae1f"/>
<path d="M45.0 505.5L48.5 499L52.0 505.5Z" fill="#e0565f"/>
<path d="M98.0 505.5L101.5 499L105.0 505.5Z" fill="#e0565f"/>
<path d="M194.0 505.5L197.5 499L201.0 505.5Z" fill="#e0565f"/>
<rect x="140.7" y="482.5" width="2.8" height="9.5" fill="#22b422"/>
<rect x="253.6" y="482.5" width="2.8" height="9.5" fill="#e0505e"/>
<rect x="0.5" y="13" width="759" height="35.5" rx="17.7" fill="#ededed"/>
<rect x="1" y="14" width="99" height="33.5" rx="16.7" fill="#fff" stroke="#e4e4e4" stroke-width="0.9"/>
<rect x="31.2" y="602.2" width="115.7" height="36" rx="18" fill="#ededed"/>
<rect x="167.8" y="602.2" width="168.1" height="36" rx="18" fill="#ededed"/>
<line x1="697" y1="179.5" x2="982" y2="179.5" stroke="#e6e6e6" stroke-width="1"/>
<line x1="697" y1="326.5" x2="982" y2="326.5" stroke="#e6e6e6" stroke-width="1"/>
<line x1="697" y1="483.5" x2="982" y2="483.5" stroke="#e6e6e6" stroke-width="1"/>
<line x1="697" y1="632.5" x2="982" y2="632.5" stroke="#ececec" stroke-width="1"/>
<line x1="697" y1="673.5" x2="982" y2="673.5" stroke="#ececec" stroke-width="1"/>
<line x1="697" y1="714.5" x2="982" y2="714.5" stroke="#ececec" stroke-width="1"/>
<line x1="697" y1="755.5" x2="982" y2="755.5" stroke="#ececec" stroke-width="1"/>
<path d="M702.3 148.8L706.8 153.1L702.3 157.4" stroke="#8f9499" stroke-width="2.3" fill="none"/>
<path d="M700.6 237.6L705.1 241.9L709.6 237.6" stroke="#8f9499" stroke-width="2.4" fill="none"/>
<path d="M702.3 453.5L706.8 457.8L702.3 462.1" stroke="#8f9499" stroke-width="2.3" fill="none"/>
<rect x="697.5" y="274.7" width="120" height="34.5" rx="3" fill="#fff" stroke="#d4d4d4"/>
<rect x="861.5" y="274.7" width="120" height="34.5" rx="3" fill="#fff" stroke="#d4d4d4"/>
<rect x="697.5" y="534.5" width="224" height="35" rx="3" fill="#fff" stroke="#d4d4d4"/>
<line x1="886.6" y1="534.5" x2="886.6" y2="569.5" stroke="#d4d4d4"/>
<path d="M900.8 550L904.7 554L908.6 550" stroke="#30363b" stroke-width="2" fill="none"/>
<rect x="946.5" y="534.5" width="35" height="35" rx="3" fill="#fff" stroke="#d4d4d4"/>
<circle cx="962" cy="549.3" r="3.8" fill="none" stroke="#30363b" stroke-width="2.2"/><path d="M964.7 552L969.5 556.8" stroke="#30363b" stroke-width="3" stroke-linecap="round"/>
<rect x="697.2" y="407" width="23.6" height="23.8" rx="4.3" fill="#25313a"/>
<path d="M703.5 419L707.7 423.2L715.8 415" stroke="#fff" stroke-width="2.7" fill="none" stroke-linecap="round" stroke-linejoin="round"/>
<circle cx="946.8" cy="417.2" r="6.5" fill="none" stroke="#25313a" stroke-width="1.9"/><rect x="945.8" y="415.8" width="2" height="4.6" fill="#25313a"/><circle cx="946.8" cy="413.9" r="1.1" fill="#25313a"/>
<rect x="697.5" y="600.2" width="23.4" height="23.6" rx="4.2" fill="#1a80e8"/>
<path d="M703.3 612.0L707.3 615.8L715 608.1" stroke="#fff" stroke-width="2.6" fill="none" stroke-linecap="round" stroke-linejoin="round"/>
<circle cx="971.9" cy="611.9" r="7.7" fill="none" stroke="#30363b" stroke-width="1.8"/><line x1="968.6" y1="611.9" x2="975.2" y2="611.9" stroke="#30363b" stroke-width="2"/>
<rect x="697.5" y="641.2" width="23.4" height="23.6" rx="4.2" fill="#1a9b3c"/>
<path d="M703.3 653.0L707.3 656.8L715 649.1" stroke="#fff" stroke-width="2.6" fill="none" stroke-linecap="round" stroke-linejoin="round"/>
<circle cx="971.9" cy="652.9" r="7.7" fill="none" stroke="#30363b" stroke-width="1.8"/><line x1="968.6" y1="652.9" x2="975.2" y2="652.9" stroke="#30363b" stroke-width="2"/>
<rect x="697.5" y="682.2" width="23.4" height="23.6" rx="4.2" fill="#f2495c"/>
<path d="M703.3 694.0L707.3 697.8L715 690.1" stroke="#fff" stroke-width="2.6" fill="none" stroke-linecap="round" stroke-linejoin="round"/>
<circle cx="971.9" cy="693.9" r="7.7" fill="none" stroke="#30363b" stroke-width="1.8"/><line x1="968.6" y1="693.9" x2="975.2" y2="693.9" stroke="#30363b" stroke-width="2"/>
<rect x="697.5" y="723.2" width="23.4" height="23.6" rx="4.2" fill="#7c3fd8"/>
<path d="M703.3 735.0L707.3 738.8L715 731.1" stroke="#fff" stroke-width="2.6" fill="none" stroke-linecap="round" stroke-linejoin="round"/>
<circle cx="971.9" cy="734.9" r="7.7" fill="none" stroke="#30363b" stroke-width="1.8"/><line x1="968.6" y1="734.9" x2="975.2" y2="734.9" stroke="#30363b" stroke-width="2"/>
<rect x="697.5" y="764.2" width="23.4" height="23.6" rx="4.2" fill="#e2386f"/>
<path d="M703.3 776.0L707.3 779.8L715 772.1" stroke="#fff" stroke-width="2.6" fill="none" stroke-linecap="round" stroke-linejoin="round"/>
<circle cx="971.9" cy="775.9" r="7.7" fill="none" stroke="#30363b" stroke-width="1.8"/><line x1="968.6" y1="775.9" x2="975.2" y2="775.9" stroke="#30363b" stroke-width="2"/>
<path d="M698.4 385.8L702 377.6L706.7 383.3L710.9 373.6L711.5 373.6L711.5 385.8Z" fill="#198a2c" stroke="#198a2c" stroke-width="0.9" stroke-linejoin="round"/>
<path d="M742.9 385.7L746 377.8L750.6 386.8L755.2 374" stroke="#1e262c" stroke-width="1.9" fill="none" stroke-linecap="round" stroke-linejoin="round"/>
<path d="M788 385.8L789.5 381.9M791.2 378.6L793.2 381.8M795.8 385.6L797.4 380.8M798.7 377.9L799.9 374.3" stroke="#1e262c" stroke-width="2" fill="none" stroke-linecap="round"/>
<path d="M832 381.6V386.4" stroke="#1e262c" stroke-width="1.7" fill="none" stroke-linecap="round"/>
<path d="M835 376.9V384.5" stroke="#1e262c" stroke-width="1.7" fill="none" stroke-linecap="round"/>
<path d="M838 379.6V383.4" stroke="#1e262c" stroke-width="1.7" fill="none" stroke-linecap="round"/>
<path d="M841 374.7V386.2" stroke="#1e262c" stroke-width="1.7" fill="none" stroke-linecap="round"/>
<path d="M844 373.6V381.2" stroke="#1e262c" stroke-width="1.7" fill="none" stroke-linecap="round"/>
<path d="M876.9 376.3V386.3M882 377.7V384.3M887 373.6V386.2" stroke="#1e262c" stroke-width="1.7" fill="none" stroke-linecap="round"/>
<path d="M875 385.1H876.9M876.9 379.9H878.8M880.1 379.9H882M882 381.9H883.9M885.1 381.9H887M887 377H888.9" stroke="#1e262c" stroke-width="1.7" fill="none" stroke-linecap="butt"/>
<path d="M921.9 375.6V386.3M929.9 373.6V386.3" stroke="#1e262c" stroke-width="1.5" fill="none" stroke-linecap="round"/>
<rect x="919.2" y="380.2" width="5.4" height="4.6" rx="0.8" fill="#1e262c"/>
<rect x="928.1" y="375.9" width="3.9" height="8.1" rx="0.6" fill="#fff" stroke="#1e262c" stroke-width="1.8"/>
</svg>
<div class="t" style="left:20.10px;top:22.88px;font-size:15.5px;color:#2f8f42;-webkit-text-stroke:0.22px #2f8f42;letter-spacing:0.829px;">Intraday</div>
<div class="t" style="left:122.70px;top:22.88px;font-size:15.5px;color:#30363b;-webkit-text-stroke:0.22px #30363b;letter-spacing:0.080px;">5 Tage</div>
<div class="t" style="left:210.40px;top:22.88px;font-size:15.5px;color:#30363b;-webkit-text-stroke:0.22px #30363b;letter-spacing:0.200px;">10 Tage</div>
<div class="t" style="left:307.40px;top:22.88px;font-size:15.5px;color:#30363b;-webkit-text-stroke:0.22px #30363b;letter-spacing:0.629px;">3 Monate</div>
<div class="t" style="left:417.30px;top:22.88px;font-size:15.5px;color:#30363b;-webkit-text-stroke:0.22px #30363b;letter-spacing:0.657px;">6 Monate</div>
<div class="t" style="left:527.70px;top:22.88px;font-size:15.5px;color:#30363b;-webkit-text-stroke:0.22px #30363b;letter-spacing:0.240px;">1 Jahr</div>
<div class="t" style="left:613.80px;top:22.88px;font-size:15.5px;color:#30363b;-webkit-text-stroke:0.22px #30363b;letter-spacing:0.250px;">5 Jahre</div>
<div class="t" style="left:708.70px;top:22.88px;font-size:15.5px;color:#30363b;-webkit-text-stroke:0.22px #30363b;letter-spacing:0.550px;">Max</div>
<div class="t" style="left:15.90px;top:81.46px;font-size:16px;color:#3c4246;letter-spacing:0.342px;">21.12.2021  - Kurs: 90,4762</div>
<div class="t" style="left:541.50px;top:107.69px;font-size:12.3px;color:#333;letter-spacing:-0.075px;">175 %</div>
<div class="t" style="left:541.50px;top:161.69px;font-size:12.3px;color:#333;letter-spacing:-0.075px;">150 %</div>
<div class="t" style="left:541.50px;top:214.69px;font-size:12.3px;color:#333;letter-spacing:-0.075px;">125 %</div>
<div class="t" style="left:541.50px;top:268.69px;font-size:12.3px;color:#333;letter-spacing:-0.075px;">100 %</div>
<div class="t" style="left:541.50px;top:321.69px;font-size:12.3px;color:#333;letter-spacing:-0.067px;">75 %</div>
<div class="t" style="left:541.50px;top:375.69px;font-size:12.3px;color:#333;letter-spacing:-0.067px;">50 %</div>
<div class="t" style="left:541.50px;top:428.69px;font-size:12.3px;color:#333;letter-spacing:-0.067px;">25 %</div>
<div class="t" style="left:15.30px;top:456.92px;font-size:12.5px;color:#222;letter-spacing:-0.283px;">31,3%HL</div>
<div class="t" style="left:89.90px;top:456.92px;font-size:12.5px;color:#222;letter-spacing:-0.147px;">Intervall: 1 Tag</div>
<div class="t" style="left:193.00px;top:456.92px;font-size:12.5px;color:#222;letter-spacing:-0.038px;">Hoch:  114,881</div>
<div class="t" style="left:298.10px;top:456.92px;font-size:12.5px;color:#222;letter-spacing:-0.108px;">Tief:   87,50</div>
<div class="t" style="left:15.30px;top:481.42px;font-size:12.5px;color:#222;letter-spacing:0.012px;">Volumen (rot-grün)</div>
<div class="t" style="left:149.20px;top:481.42px;font-size:12.5px;color:#222;letter-spacing:-0.271px;">Steigende Kurse</div>
<div class="t" style="left:261.70px;top:481.42px;font-size:12.5px;color:#222;letter-spacing:-0.162px;">Fallende Kurse</div>
<div class="t" style="left:541.60px;top:495.27px;font-size:10.2px;color:#222;letter-spacing:1.000px;">60.000</div>
<div class="t" style="left:541.60px;top:506.02px;font-size:10.2px;color:#222;letter-spacing:1.000px;">50.000</div>
<div class="t" style="left:541.60px;top:516.77px;font-size:10.2px;color:#222;letter-spacing:1.000px;">40.000</div>
<div class="t" style="left:541.60px;top:527.52px;font-size:10.2px;color:#222;letter-spacing:1.000px;">30.000</div>
<div class="t" style="left:541.60px;top:538.27px;font-size:10.2px;color:#222;letter-spacing:1.000px;">20.000</div>
<div class="t" style="left:541.60px;top:549.02px;font-size:10.2px;color:#222;letter-spacing:1.000px;">10.000</div>
<div class="t" style="left:541.60px;top:559.77px;font-size:10.2px;color:#222;">0</div>
<div class="t" style="left:15.30px;top:570.19px;font-size:11px;color:#b4b4b4;letter-spacing:0.347px;">21.12.2021 17:35 Uhr</div>
<div class="t" style="left:52.10px;top:613.18px;font-size:15.5px;color:#30363b;-webkit-text-stroke:0.22px #30363b;letter-spacing:0.487px;">Kursdaten</div>
<div class="t" style="left:187.70px;top:613.18px;font-size:15.5px;color:#30363b;-webkit-text-stroke:0.22px #30363b;letter-spacing:0.620px;">Chart vergrößern</div>
<div class="t" style="left:697.80px;top:114.79px;font-size:17.5px;color:#262c31;-webkit-text-stroke:0.3px #262c31;letter-spacing:1.143px;">Chartansichten speichern</div>
<div class="t" style="left:713.70px;top:147.15px;font-size:14px;color:#9aa0a6;letter-spacing:0.467px;">Mehr anzeigen</div>
<div class="t" style="left:697.30px;top:202.09px;font-size:17.5px;color:#262c31;-webkit-text-stroke:0.3px #262c31;letter-spacing:1.614px;">Zeitraum</div>
<div class="t" style="left:717.80px;top:234.25px;font-size:14px;color:#9aa0a6;letter-spacing:0.753px;">Zeitraum frei wählen</div>
<div class="t" style="left:709.00px;top:283.96px;font-size:16px;color:#30363b;letter-spacing:0.411px;">21.12.2020</div>
<div class="t" style="left:830.80px;top:285.65px;font-size:14px;color:#9aa0a6;letter-spacing:0.250px;">bis</div>
<div class="t" style="left:873.20px;top:283.96px;font-size:16px;color:#30363b;letter-spacing:0.344px;">21.12.2021</div>
<div class="t" style="left:697.90px;top:349.39px;font-size:17.5px;color:#262c31;-webkit-text-stroke:0.3px #262c31;letter-spacing:1.183px;">Darstellungen</div>
<div class="t" style="left:729.40px;top:410.95px;font-size:14px;color:#3e4449;letter-spacing:0.775px;">Interaktive Kursinformationen</div>
<div class="t" style="left:713.40px;top:451.75px;font-size:14px;color:#9aa0a6;letter-spacing:0.654px;">Mehr Kriterien</div>
<div class="t" style="left:697.30px;top:506.09px;font-size:17.5px;color:#262c31;-webkit-text-stroke:0.3px #262c31;letter-spacing:0.938px;">Vergleich</div>
<div class="t" style="left:709.00px;top:545.66px;font-size:16px;color:#30363b;letter-spacing:0.633px;">Index / Festgeld</div>
<div class="t" style="left:697.30px;top:579.87px;font-size:13.5px;color:#a6abb0;letter-spacing:0.855px;">Ihre Auswahl</div>
<div class="t" style="left:729.40px;top:604.45px;font-size:14px;color:#2a3035;letter-spacing:0.600px;text-decoration:underline;text-underline-offset:1.3px;">ZOOM VIDEO COMMUNICA..</div>
<div class="t" style="left:729.40px;top:645.45px;font-size:14px;color:#2a3035;letter-spacing:0.240px;text-decoration:underline;text-underline-offset:1.3px;">TWITTER INC</div>
<div class="t" style="left:729.40px;top:686.45px;font-size:14px;color:#2a3035;letter-spacing:0.350px;text-decoration:underline;text-underline-offset:1.3px;">HYPOPORT AG</div>
<div class="t" style="left:729.40px;top:727.45px;font-size:14px;color:#2a3035;letter-spacing:0.442px;text-decoration:underline;text-underline-offset:1.3px;">TEAMVIEWER AG</div>
<div class="t" style="left:729.40px;top:768.45px;font-size:14px;color:#2a3035;letter-spacing:0.556px;text-decoration:underline;text-underline-offset:1.3px;">WESTWING GROUP AG</div>
</body></html>
